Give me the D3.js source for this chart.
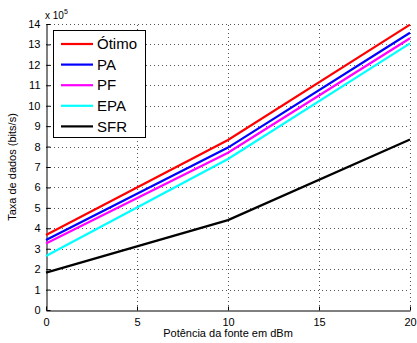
<!DOCTYPE html>
<html>
<head>
<meta charset="utf-8">
<script src="https://cdn.jsdelivr.net/npm/d3@7"></script>
<style>
  body { margin: 0; background: #fff; }
  svg { display: block; font-family: "Liberation Sans", Arial, sans-serif; }
</style>
</head>
<body>
<svg id="chart" width="417" height="343"></svg>
<script>
const potencia = [0, 10, 20];
const otimo = [3.67, 8.32, 13.97];
const pa = [3.43, 7.95, 13.57];
const pf = [3.26, 7.70, 13.30];
const epa = [2.64, 7.39, 13.05];
const sfr = [1.83, 4.40, 8.35];

const seriesNames = ["Ótimo", "PA", "PF", "EPA", "SFR"];
const seriesColors = ["#ff0000", "#0000ff", "#ff00ff", "#00ffff", "#000000"];
const allSeries = [otimo, pa, pf, epa, sfr];

const xTicks = [0, 5, 10, 15, 20];
const yTicks = d3.range(0, 15);

const svg = d3.select("#chart");
const margin = { top: 24, right: 7, bottom: 33, left: 46 };
const W = 417, H = 343;

const x = d3.scaleLinear().domain([0, 20]).range([margin.left, W - margin.right]);
const y = d3.scaleLinear().domain([0, 14]).range([H - margin.bottom, margin.top]);

// grid
const grid = svg.append("g")
  .attr("stroke", "#555")
  .attr("stroke-width", 1)
  .attr("stroke-dasharray", "1,3");

grid.selectAll("line.gx")
  .data(xTicks.slice(1))
  .enter().append("line")
  .attr("x1", d => Math.round(x(d)) + 0.5)
  .attr("x2", d => Math.round(x(d)) + 0.5)
  .attr("y1", y(0))
  .attr("y2", y(14));

grid.selectAll("line.gy")
  .data(yTicks.slice(1))
  .enter().append("line")
  .attr("y1", d => Math.round(y(d)) + 0.5)
  .attr("y2", d => Math.round(y(d)) + 0.5)
  .attr("x1", x(0))
  .attr("x2", x(20));

// axes (inward ticks)
const xAxis = svg.append("g")
  .attr("transform", `translate(0, ${Math.round(y(0)) + 0.5})`)
  .call(d3.axisBottom(x).tickValues(xTicks).tickSizeInner(-4).tickSizeOuter(0).tickPadding(8));

const yAxis = svg.append("g")
  .attr("transform", `translate(${Math.round(x(0)) + 0.5}, 0)`)
  .call(d3.axisLeft(y).tickValues(yTicks).tickSizeInner(-4).tickSizeOuter(0).tickPadding(6));

[xAxis, yAxis].forEach(a => {
  a.selectAll("path, line").attr("stroke", "#000");
  a.selectAll("text")
    .attr("fill", "#000")
    .attr("font-size", "11px")
    .attr("font-family", "Liberation Sans, Arial, sans-serif");
});

// lines
const line = d3.line()
  .x((d, i) => x(potencia[i]))
  .y(d => y(d));

svg.append("g").selectAll("path")
  .data(allSeries)
  .enter().append("path")
  .attr("fill", "none")
  .attr("stroke", (d, i) => seriesColors[i])
  .attr("stroke-width", 2.2)
  .attr("d", line);

// exponent label
const expo = svg.append("text")
  .attr("x", 45)
  .attr("y", 19)
  .attr("font-size", "10px")
  .attr("fill", "#000");
expo.append("tspan").text("x 10");
expo.append("tspan").attr("dy", -5).attr("font-size", "7px").text("5");

// axis titles
svg.append("text")
  .attr("x", (x(0) + x(20)) / 2)
  .attr("y", 337)
  .attr("text-anchor", "middle")
  .attr("font-size", "11px")
  .text("Potência da fonte em dBm");

svg.append("text")
  .attr("transform", "rotate(-90)")
  .attr("x", -(y(0) + y(14)) / 2)
  .attr("y", 16)
  .attr("text-anchor", "middle")
  .attr("font-size", "11px")
  .text("Taxa de dados (bits/s)");

// legend
const legend = svg.append("g");
legend.append("rect")
  .attr("x", 53.5)
  .attr("y", 30.5)
  .attr("width", 92)
  .attr("height", 107)
  .attr("fill", "#fff")
  .attr("stroke", "#000")
  .attr("stroke-width", 1);

const items = legend.selectAll("g.item")
  .data(seriesNames)
  .enter().append("g")
  .attr("transform", (d, i) => `translate(0, ${44 + i * 20.6})`);

items.append("line")
  .attr("x1", 61)
  .attr("x2", 93)
  .attr("stroke", (d, i) => seriesColors[i])
  .attr("stroke-width", 2.2);

items.append("text")
  .attr("x", 97)
  .attr("dy", "0.35em")
  .attr("font-size", "15px")
  .text(d => d);
</script>
</body>
</html>
